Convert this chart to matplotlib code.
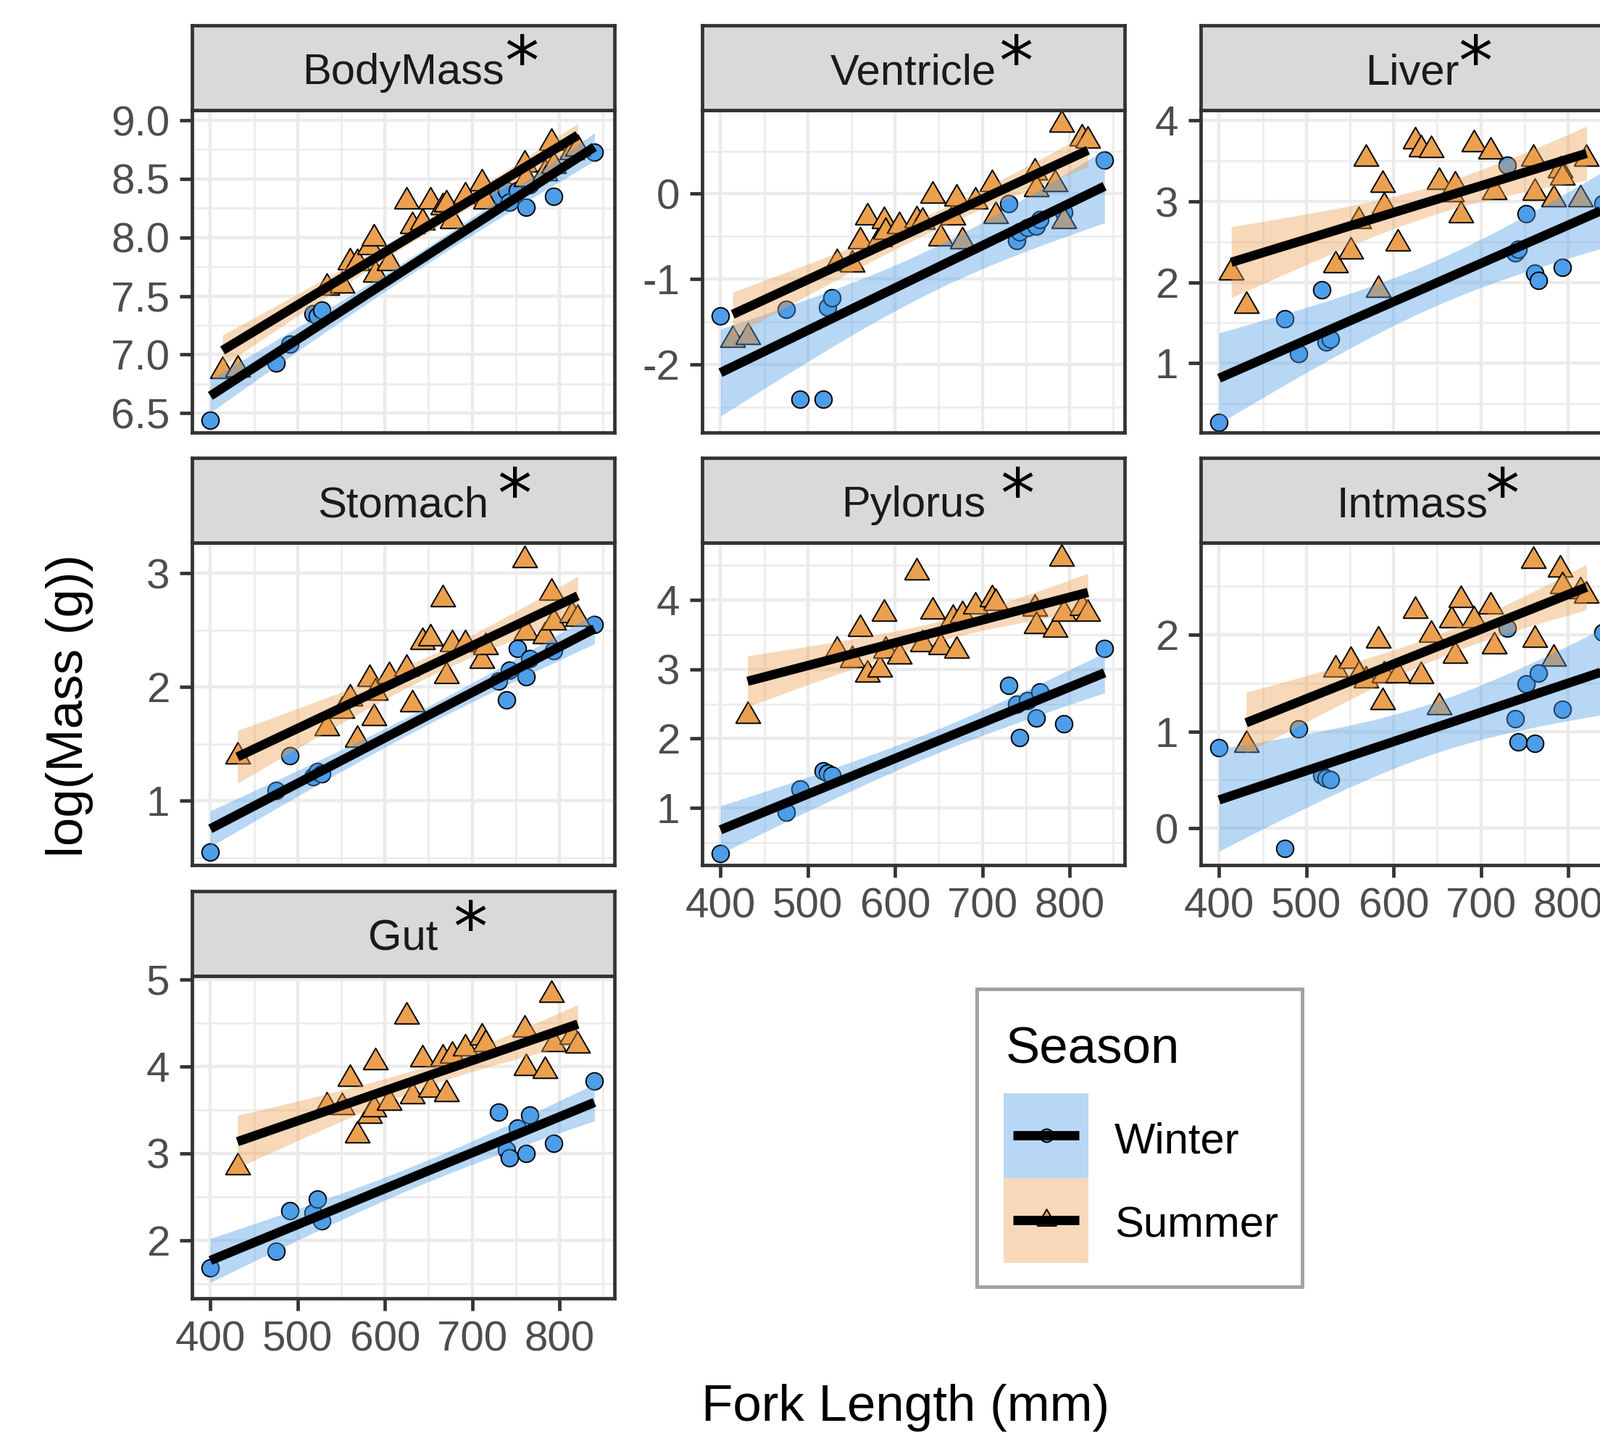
import numpy as np
import matplotlib
matplotlib.use("Agg")
import matplotlib.pyplot as plt
from matplotlib.patches import Rectangle
from matplotlib.lines import Line2D

plt.rcParams['font.family'] = ['Liberation Sans', 'DejaVu Sans']
plt.rcParams['axes.unicode_minus'] = False

# fork lengths (mm) of the fish, same fish in every panel
winter_fl = [400, 475, 491, 518, 523, 528, 730, 739, 743, 752, 762, 766, 793, 840]
summer_fl = [414, 431, 533, 551, 560, 568, 582, 587, 589, 605, 625, 631, 643, 652,
             666, 670, 677, 692, 711, 715, 760, 762, 783, 791, 793, 814, 821]
nan = np.nan

# log(mass) per organ
bodymass_w = [6.44, 6.93, 7.09, 7.35, 7.33, 7.38, 8.36, 8.40, 8.30, 8.40, 8.26, 8.45, 8.35, 8.73]
bodymass_s = [6.86, 6.87, 7.57, 7.59, 7.79, 7.78, 7.92, 7.99, 7.68, 7.78, 8.31, 8.10, 8.13, 8.31,
              8.26, 8.28, 8.14, 8.35, 8.46, 8.31, 8.62, 8.50, 8.55, 8.81, 8.61, 8.73, 8.76]
ventricle_w = [-1.43, -1.36, -2.41, -2.41, -1.33, -1.22, -0.12, -0.55, -0.45, -0.40, -0.38, -0.30, -0.22, 0.39]
ventricle_s = [-1.71, -1.68, -0.81, -0.83, -0.56, -0.28, -0.53, -0.32, -0.45, -0.38, -0.31, -0.33, -0.02, -0.52,
               -0.28, -0.06, -0.56, -0.09, 0.11, -0.26, 0.25, 0.05, 0.11, 0.81, -0.32, 0.65, 0.62]
liver_w = [0.27, 1.55, 1.12, 1.91, 1.26, 1.30, 3.45, 2.36, 2.41, 2.85, 2.11, 2.02, 2.18, 2.97]
liver_s = [2.12, 1.71, 2.21, 2.38, 2.76, 3.53, 1.91, 3.21, 2.94, 2.48, 3.74, 3.65, 3.64, 3.24,
           3.09, 3.20, 2.83, 3.71, 3.62, 3.12, 3.53, 3.11, 3.03, 3.39, 3.30, 3.03, 3.53]
stomach_w = [0.55, 1.09, 1.40, 1.21, 1.26, 1.24, 2.05, 1.89, 2.15, 2.34, 2.09, 2.25, 2.32, 2.55]
stomach_s = [nan, 1.39, 1.64, 1.79, 1.90, 1.54, 2.07, 1.73, 1.95, 2.10, 2.16, 1.85, 2.40, 2.43,
             2.77, 2.10, 2.38, 2.38, 2.23, 2.35, 3.12, 2.48, 2.45, 2.83, 2.57, 2.63, 2.60]
pylorus_w = [0.35, 0.94, 1.28, 1.54, 1.50, 1.47, 2.77, 2.49, 2.02, 2.55, 2.30, 2.67, 2.21, 3.30]
pylorus_s = [nan, 2.33, 3.27, 3.13, 3.58, 2.92, 3.00, 3.80, 3.27, 3.18, 4.39, 3.36, 3.83, 3.32,
             3.73, 3.27, 3.78, 3.90, 4.01, 3.95, 3.87, 3.62, 3.57, 4.59, 3.80, 3.88, 3.80]
intmass_w = [0.83, -0.21, 1.03, 0.55, 0.52, 0.50, 2.07, 1.13, 0.89, 1.49, 0.88, 1.60, 1.23, 2.02]
intmass_s = [nan, 0.86, 1.64, 1.73, 1.58, 1.53, 1.94, 1.30, 1.58, 1.58, 2.25, 1.57, 2.00, 1.25,
             2.15, 1.78, 2.36, 2.15, 2.29, 1.88, 2.76, 1.95, 1.75, 2.67, 2.50, 2.45, 2.40]
gut_w = [1.68, 1.87, 2.34, 2.31, 2.47, 2.22, 3.47, 3.04, 2.95, 3.29, 3.00, 3.44, 3.11, 3.83]
gut_s = [nan, 2.84, 3.54, 3.53, 3.86, 3.21, 3.43, 3.51, 4.05, 3.58, 4.57, 3.66, 4.08, 3.73,
         4.09, 3.68, 4.12, 4.21, 4.33, 4.26, 4.42, 3.98, 3.95, 4.82, 4.26, 4.34, 4.24]

panel_names = ['BodyMass', 'Ventricle', 'Liver', 'Stomach', 'Pylorus', 'Intmass', 'Gut']
winter_vals = [bodymass_w, ventricle_w, liver_w, stomach_w, pylorus_w, intmass_w, gut_w]
summer_vals = [bodymass_s, ventricle_s, liver_s, stomach_s, pylorus_s, intmass_s, gut_s]
y_limits = [(6.334, 9.087), (-2.80, 0.98), (0.14, 4.13), (0.435, 3.27),
            (0.18, 4.82), (-0.38, 2.95), (1.33, 5.04)]
y_ticks = [[6.5, 7.0, 7.5, 8.0, 8.5, 9.0], [-2, -1, 0], [1, 2, 3, 4], [1, 2, 3],
           [1, 2, 3, 4], [0, 1, 2], [2, 3, 4, 5]]
x_ticks = [400, 500, 600, 700, 800]

# layout (pixels)
W, H, DPI = 2208, 1982, 200
col_left = [265, 969, 1657]
row_top = [152, 749, 1347]
PW, PH, SH = 583, 445, 117
star_x = [0.780, 0.742, 0.650, 0.763, 0.746, 0.713, 0.659]
has_xaxis = [False, False, False, False, True, True, True]

WINTER = '#4D9DE8'
SUMMER = '#EBA050'
DARK = '#333333'
GRID = '#EBEBEB'
# equilateral triangle centred on its centroid (ggplot shape 24)
TRI = [(-1, -0.577), (1, -0.577), (0, 1.155), (-1, -0.577)]

fig = plt.figure(figsize=(W / DPI, H / DPI), dpi=DPI)


def px_axes(left, top, width, height):
    return fig.add_axes([left / W, 1 - (top + height) / H, width / W, height / H])


def t975(df):
    z = 1.959964
    return (z + (z**3 + z) / (4 * df) + (5 * z**5 + 16 * z**3 + 3 * z) / (96 * df**2)
            + (3 * z**7 + 19 * z**5 + 17 * z**3 - 15 * z) / (384 * df**3))


def smooth(ax, x, y, color):
    x = np.asarray(x, float)
    y = np.asarray(y, float)
    ok = ~np.isnan(y)
    x, y = x[ok], y[ok]
    b, a = np.polyfit(x, y, 1)
    n = len(x)
    resid = y - (a + b * x)
    s = np.sqrt(np.sum(resid**2) / (n - 2))
    sxx = np.sum((x - x.mean())**2)
    xs = np.linspace(x.min(), x.max(), 80)
    fit = a + b * xs
    se = s * np.sqrt(1 / n + (xs - x.mean())**2 / sxx)
    t = t975(n - 2)
    ax.fill_between(xs, fit - t * se, fit + t * se, color=color, alpha=0.4, lw=0)
    ax.plot(xs, fit, color='black', lw=4.6, solid_capstyle='butt')


for i, name in enumerate(panel_names):
    r, c = divmod(i, 3)
    ax = px_axes(col_left[c], row_top[r], PW, PH)
    ax.set_xticks(x_ticks)
    ax.set_xticks([450, 550, 650, 750, 850], minor=True)
    yt = y_ticks[i]
    step = yt[1] - yt[0]
    ax.set_yticks(yt)
    ax.set_yticks([v - step / 2 for v in yt] + [yt[-1] + step / 2], minor=True)
    if step == 0.5:
        ax.set_yticklabels(['%.1f' % v for v in yt])
    else:
        ax.set_yticklabels(['%d' % v for v in yt])
    ax.set_xlim(379, 863)
    ax.set_ylim(*y_limits[i])
    ax.grid(which='major', color=GRID, lw=1.6)
    ax.grid(which='minor', color=GRID, lw=0.9)
    ax.set_axisbelow(True)
    for sp in ax.spines.values():
        sp.set_color(DARK)
        sp.set_linewidth(1.7)
    ax.tick_params(which='major', length=6, width=1.7, color=DARK,
                   labelsize=21, labelcolor='#4D4D4D', pad=5)
    ax.tick_params(which='minor', length=0)
    if not has_xaxis[i]:
        ax.tick_params(axis='x', which='major', length=0, labelbottom=False)

    ax.scatter(winter_fl, winter_vals[i], s=72, marker='o', facecolor=WINTER,
               edgecolor='black', linewidth=0.7)
    ax.scatter(summer_fl, summer_vals[i], s=200, marker=TRI, facecolor=SUMMER,
               edgecolor='black', linewidth=0.7)
    smooth(ax, winter_fl, winter_vals[i], WINTER)
    smooth(ax, summer_fl, summer_vals[i], SUMMER)

    st = px_axes(col_left[c], row_top[r] - SH, PW, SH)
    st.set_facecolor('#D9D9D9')
    st.set_xticks([])
    st.set_yticks([])
    for sp in st.spines.values():
        sp.set_color(DARK)
        sp.set_linewidth(1.7)
    st.text(0.5, 0.44, name, ha='center', va='center', fontsize=21.5,
            color='#1A1A1A', transform=st.transAxes)
    st.text(star_x[i], 0.52, '*', ha='center', va='center', fontsize=34,
            color='black', transform=st.transAxes, family='DejaVu Sans')

fig.text(96 / W, 1 - 974 / H, 'log(Mass (g))', rotation=90, ha='center',
         va='center', fontsize=25.5, color='black')
fig.text(1250 / W, 1 - 1943 / H, 'Fork Length (mm)', ha='center',
         va='center', fontsize=25.5, color='black')

# legend
leg = px_axes(1346, 1363, 453, 415)
leg.set_xlim(0, 453)
leg.set_ylim(415, 0)
leg.axis('off')
leg.add_patch(Rectangle((2, 2), 449, 411, fill=False, ec='#A3A3A3', lw=1.8, clip_on=False))
leg.text(42, 105, 'Season', fontsize=25.5, va='baseline', ha='left', color='black')
keys = [('Winter', WINTER, 'o', 6.5, 146, 229), ('Summer', SUMMER, TRI, 11.0, 263, 345)]
for label, col, mk, ms, ky, base in keys:
    cy = ky + 58
    leg.plot([97.5], [cy], marker=mk, ms=ms, mfc=col, mec='black', mew=0.7, ls='none')
    leg.add_patch(Rectangle((39, ky), 117, 117, fc=col, alpha=0.4, lw=0))
    leg.add_line(Line2D([52, 143], [cy, cy], color='black', lw=4.6, solid_capstyle='butt'))
    leg.text(192, base, label, fontsize=21.5, va='baseline', ha='left', color='black')

fig.savefig('out.png', dpi=DPI)
